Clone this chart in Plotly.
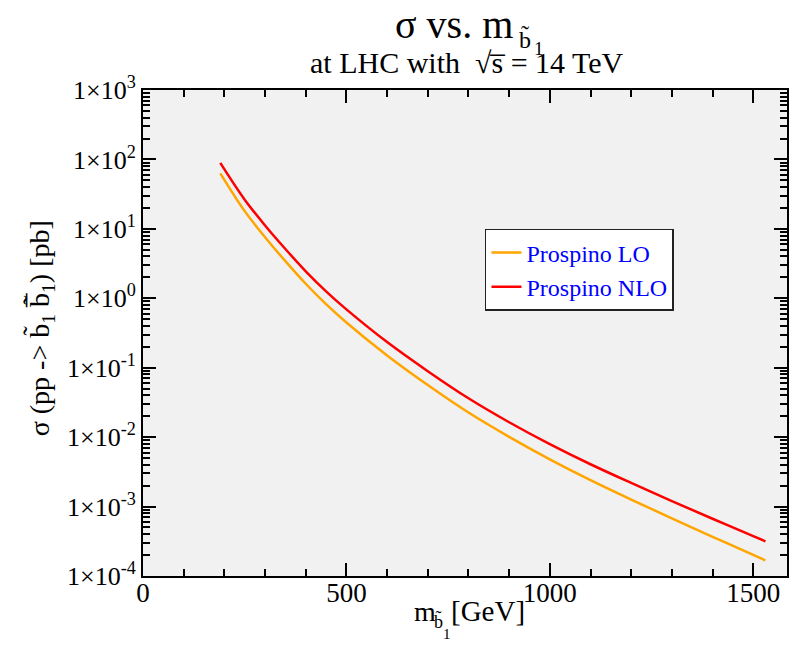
import plotly.graph_objects as go

# Data (mass in GeV, cross section in pb)
mass = [190, 250, 300, 350, 400, 450, 500, 600, 700, 800, 900, 1000, 1100, 1200, 1300, 1400, 1500, 1530]
sigma_lo = [63.1, 18.0, 7.59, 3.43, 1.62, 0.822, 0.447, 0.150, 0.0562, 0.0226, 0.0101, 0.00479,
            0.00240, 0.00126, 0.000676, 0.000367, 0.000202, 0.000168]
sigma_nlo = [89.1, 26.3, 11.2, 5.13, 2.45, 1.26, 0.692, 0.234, 0.0891, 0.0363, 0.0164, 0.00794,
             0.00407, 0.00219, 0.00120, 0.000668, 0.000376, 0.000316]

y_tickvals = [1e-4, 1e-3, 1e-2, 1e-1, 1e0, 1e1, 1e2, 1e3]
y_ticktext = ["1×10<sup>-4</sup>", "1×10<sup>-3</sup>", "1×10<sup>-2</sup>", "1×10<sup>-1</sup>",
              "1×10<sup>0</sup>", "1×10<sup>1</sup>", "1×10<sup>2</sup>", "1×10<sup>3</sup>"]
x_tickvals = [0, 500, 1000, 1500]
x_ticktext = ["0", "500", "1000", "1500"]

FONT = "Liberation Serif, Times New Roman, serif"

fig = go.Figure()
fig.add_trace(go.Scatter(x=mass, y=sigma_lo, mode="lines", name="Prospino LO",
                         line=dict(color="#ffa500", width=2.5, shape="spline")))
fig.add_trace(go.Scatter(x=mass, y=sigma_nlo, mode="lines", name="Prospino NLO",
                         line=dict(color="#ff0000", width=2.5, shape="spline")))

y_minor = [m * 10 ** e for e in range(-4, 3) for m in range(2, 10)]
x_minor = [v for v in range(100, 1600, 100) if v % 500 != 0]

fig.update_layout(
    width=792, height=654,
    margin=dict(l=143, r=3, t=90, b=78),
    paper_bgcolor="white",
    plot_bgcolor="#f1f1f1",
    font=dict(family=FONT, color="black"),
    showlegend=True,
    legend=dict(x=0.531, y=0.714, xanchor="left", yanchor="top",
                bgcolor="white", bordercolor="#222222", borderwidth=1.5,
                font=dict(family=FONT, size=24, color="#0000ff"),
                tracegroupgap=0, itemwidth=30),
    xaxis=dict(range=[0, 1583], showgrid=False, zeroline=False,
               showline=True, linecolor="black", linewidth=2, mirror="ticks",
               ticks="inside", ticklen=13, tickwidth=1.5, tickcolor="black",
               tickvals=x_tickvals, ticktext=x_ticktext,
               tickfont=dict(family=FONT, size=27), ticklabelstandoff=-8,
               minor=dict(tickvals=x_minor, ticks="inside", ticklen=7, tickwidth=1.5,
                          tickcolor="black", showgrid=False)),
    yaxis=dict(type="log", range=[-4, 3], showgrid=False, zeroline=False,
               showline=True, linecolor="black", linewidth=2, mirror="ticks",
               ticks="inside", ticklen=13, tickwidth=1.5, tickcolor="black",
               tickvals=y_tickvals, ticktext=y_ticktext,
               tickfont=dict(family=FONT, size=26),
               minor=dict(tickvals=y_minor, ticks="inside", ticklen=7, tickwidth=1.5,
                          tickcolor="black", showgrid=False)),
)

def px(xp):
    return (xp - 143) / 646.0

def py(yp):
    return (576 - yp) / 486.0

annots = [
    dict(text="σ vs. m", x=px(516), y=py(24), xanchor="right", yanchor="middle", size=40),
    dict(text="b\u0303", x=px(518), y=py(39), xanchor="left", yanchor="middle", size=24),
    dict(text="1", x=px(533), y=py(48), xanchor="left", yanchor="middle", size=19),
    dict(text="at LHC with  √s\u0305 = 14 TeV", x=px(468), y=py(62), xanchor="center",
         yanchor="middle", size=30),
    dict(text="m", x=px(413), y=py(611), xanchor="left", yanchor="middle", size=28),
    dict(text="b\u0303", x=px(433), y=py(621), xanchor="left", yanchor="middle", size=18),
    dict(text="1", x=px(442), y=py(634), xanchor="left", yanchor="middle", size=15),
    dict(text="[GeV]", x=px(450), y=py(611), xanchor="left", yanchor="middle", size=29),
]
for a in annots:
    fig.add_annotation(text=a["text"], x=a["x"], y=a["y"], xref="paper", yref="paper",
                       xanchor=a["xanchor"], yanchor=a["yanchor"], showarrow=False,
                       font=dict(family=FONT, size=a["size"], color="black"))

fig.add_annotation(text="σ (pp -> b\u0303<sub>1</sub> b\u0303\u0305<sub>1</sub>) [pb]",
                   x=px(40), y=py(328), xref="paper", yref="paper",
                   xanchor="center", yanchor="middle", textangle=-90, showarrow=False,
                   font=dict(family=FONT, size=28, color="black"))

fig.write_html("out.html")
